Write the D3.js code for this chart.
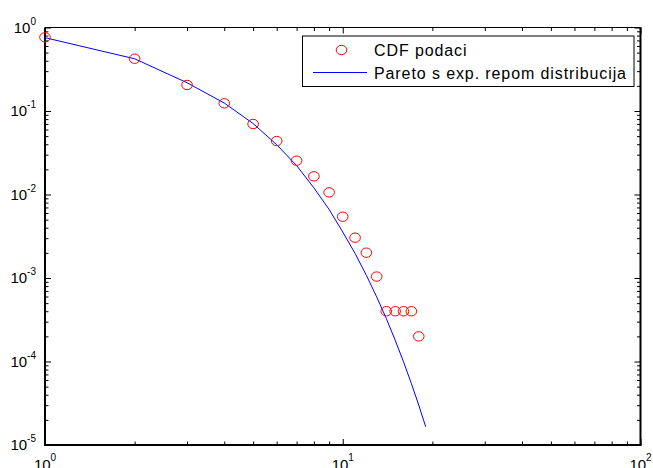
<!DOCTYPE html>
<html>
<head>
<meta charset="utf-8">
<script src="https://cdn.jsdelivr.net/npm/d3@7"></script>
<style>
  html, body { margin: 0; padding: 0; background: #fff; }
  svg { display: block; font-family: Arial, "Liberation Sans", Helvetica, sans-serif; }
</style>
</head>
<body>
<svg width="653" height="468"></svg>
<script>
// CDF podaci (krugovi)
const cdfX = [1, 2, 3, 4, 5, 6, 7, 8, 9, 10, 11, 12, 13, 14, 15, 16, 17, 18];
const cdfY = [0.763, 0.423, 0.205, 0.1236, 0.0699, 0.0437, 0.0254, 0.0165, 0.0106,
  0.00542, 0.00304, 0.00201, 0.00104, 0.0004, 0.0004, 0.0004, 0.0004, 0.0002];

// Pareto s exp. repom (linija)
const fitX = [1, 2, 3, 4, 5, 6, 7, 8, 9, 10, 11, 12, 13, 14, 15, 16, 17, 18, 19];
const fitY = [0.755, 0.422, 0.218, 0.1245, 0.0708, 0.0395, 0.0222, 0.0120, 0.00662,
  0.00355, 0.00197, 0.00108, 0.000594, 0.000328, 0.000180, 0.0000990, 0.0000545,
  0.0000300, 0.0000165];

const xMajor = [1, 10, 100];
const yMajor = [1, 1e-1, 1e-2, 1e-3, 1e-4, 1e-5];
const legendLabels = ["CDF podaci", "Pareto s exp. repom distribucija"];

const svg = d3.select("svg");
const pLeft = 45, pRight = 640.5, pTop = 27.5, pBottom = 445;

const x = d3.scaleLog().domain([1, 100]).range([pLeft, pRight]);
const y = d3.scaleLog().domain([1e-5, 1]).range([pBottom, pTop]);

// minor ticks 2..9 u svakoj dekadi
function minorTicks(lo, hi) {
  const out = [];
  for (let e = lo; e < hi; e++) {
    for (let m = 2; m <= 9; m++) out.push(m * Math.pow(10, e));
  }
  return out;
}
const xMinor = minorTicks(0, 2);
const yMinor = minorTicks(-5, 0);

function tickAxis(axisFn, scale, vals, size, transform) {
  const g = svg.append("g")
    .attr("transform", transform)
    .call(axisFn(scale).tickValues(vals).tickSize(size).tickFormat(""));
  g.select(".domain").remove();
  g.selectAll("line").attr("stroke", "#000").attr("stroke-width", 1);
  return g;
}

// Ticks prema unutra, na sve četiri strane
tickAxis(d3.axisBottom, x, xMajor, -6, `translate(0,${pBottom})`);
tickAxis(d3.axisBottom, x, xMinor, -3.5, `translate(0,${pBottom})`);
tickAxis(d3.axisTop, x, xMajor, -6, `translate(0,${pTop})`);
tickAxis(d3.axisTop, x, xMinor, -3.5, `translate(0,${pTop})`);
tickAxis(d3.axisLeft, y, yMajor, -6, `translate(${pLeft},0)`);
tickAxis(d3.axisLeft, y, yMinor, -3.5, `translate(${pLeft},0)`);
tickAxis(d3.axisRight, y, yMajor, -6, `translate(${pRight},0)`);
tickAxis(d3.axisRight, y, yMinor, -3.5, `translate(${pRight},0)`);

// okvir
svg.append("line").attr("x1", pLeft).attr("x2", pRight).attr("y1", pTop).attr("y2", pTop)
  .attr("stroke", "#000").attr("stroke-width", 1);
svg.append("line").attr("x1", pLeft).attr("x2", pLeft).attr("y1", pTop).attr("y2", pBottom + 1)
  .attr("stroke", "#000").attr("stroke-width", 2);
svg.append("line").attr("x1", pLeft - 1).attr("x2", pRight + 1).attr("y1", pBottom).attr("y2", pBottom)
  .attr("stroke", "#000").attr("stroke-width", 2);
svg.append("line").attr("x1", pRight).attr("x2", pRight).attr("y1", pTop).attr("y2", pBottom)
  .attr("stroke", "#000").attr("stroke-width", 2);

// oznake 10^k
const expOf = v => Math.round(Math.log10(v));

svg.append("g").selectAll("text")
  .data(xMajor)
  .join("text")
  .attr("x", d => x(d))
  .attr("y", pBottom + 25)
  .attr("text-anchor", "middle")
  .attr("font-size", 15)
  .each(function (d) {
    const t = d3.select(this);
    t.append("tspan").text("10");
    t.append("tspan").attr("font-size", 10).attr("dy", -9).text(expOf(d));
  });

svg.append("g").selectAll("text")
  .data(yMajor)
  .join("text")
  .attr("x", pLeft - 9)
  .attr("y", d => y(d) + 5)
  .attr("text-anchor", "end")
  .attr("font-size", 15)
  .each(function (d) {
    const t = d3.select(this);
    t.append("tspan").text("10");
    t.append("tspan").attr("font-size", 10).attr("dy", -8).text(expOf(d));
  });

// linija
const line = d3.line().x(d => x(d[0])).y(d => y(d[1]));
svg.append("path")
  .datum(d3.zip(fitX, fitY))
  .attr("d", line)
  .attr("fill", "none")
  .attr("stroke", "#0000ff")
  .attr("stroke-width", 1);

// krugovi
svg.append("g").selectAll("ellipse")
  .data(d3.zip(cdfX, cdfY))
  .join("ellipse")
  .attr("cx", d => x(d[0]))
  .attr("cy", d => y(d[1]))
  .attr("rx", 5.3)
  .attr("ry", 4.7)
  .attr("fill", "none")
  .attr("stroke", "#ff0000")
  .attr("stroke-width", 1);

// legenda
const lg = svg.append("g");
lg.append("rect")
  .attr("x", 302.5).attr("y", 36)
  .attr("width", 331.5).attr("height", 50.5)
  .attr("fill", "#fff").attr("stroke", "#000").attr("stroke-width", 1);
lg.append("ellipse")
  .attr("cx", 341.5).attr("cy", 50)
  .attr("rx", 5.3).attr("ry", 4.7)
  .attr("fill", "none").attr("stroke", "#ff0000");
lg.append("line")
  .attr("x1", 313).attr("x2", 367).attr("y1", 72.5).attr("y2", 72.5)
  .attr("stroke", "#0000ff");
lg.selectAll("text.lab")
  .data(legendLabels)
  .join("text")
  .attr("class", "lab")
  .attr("x", 374)
  .attr("y", (d, i) => 55.5 + i * 23)
  .attr("font-size", 16)
  .attr("letter-spacing", 0.9)
  .text(d => d);
</script>
</body>
</html>
